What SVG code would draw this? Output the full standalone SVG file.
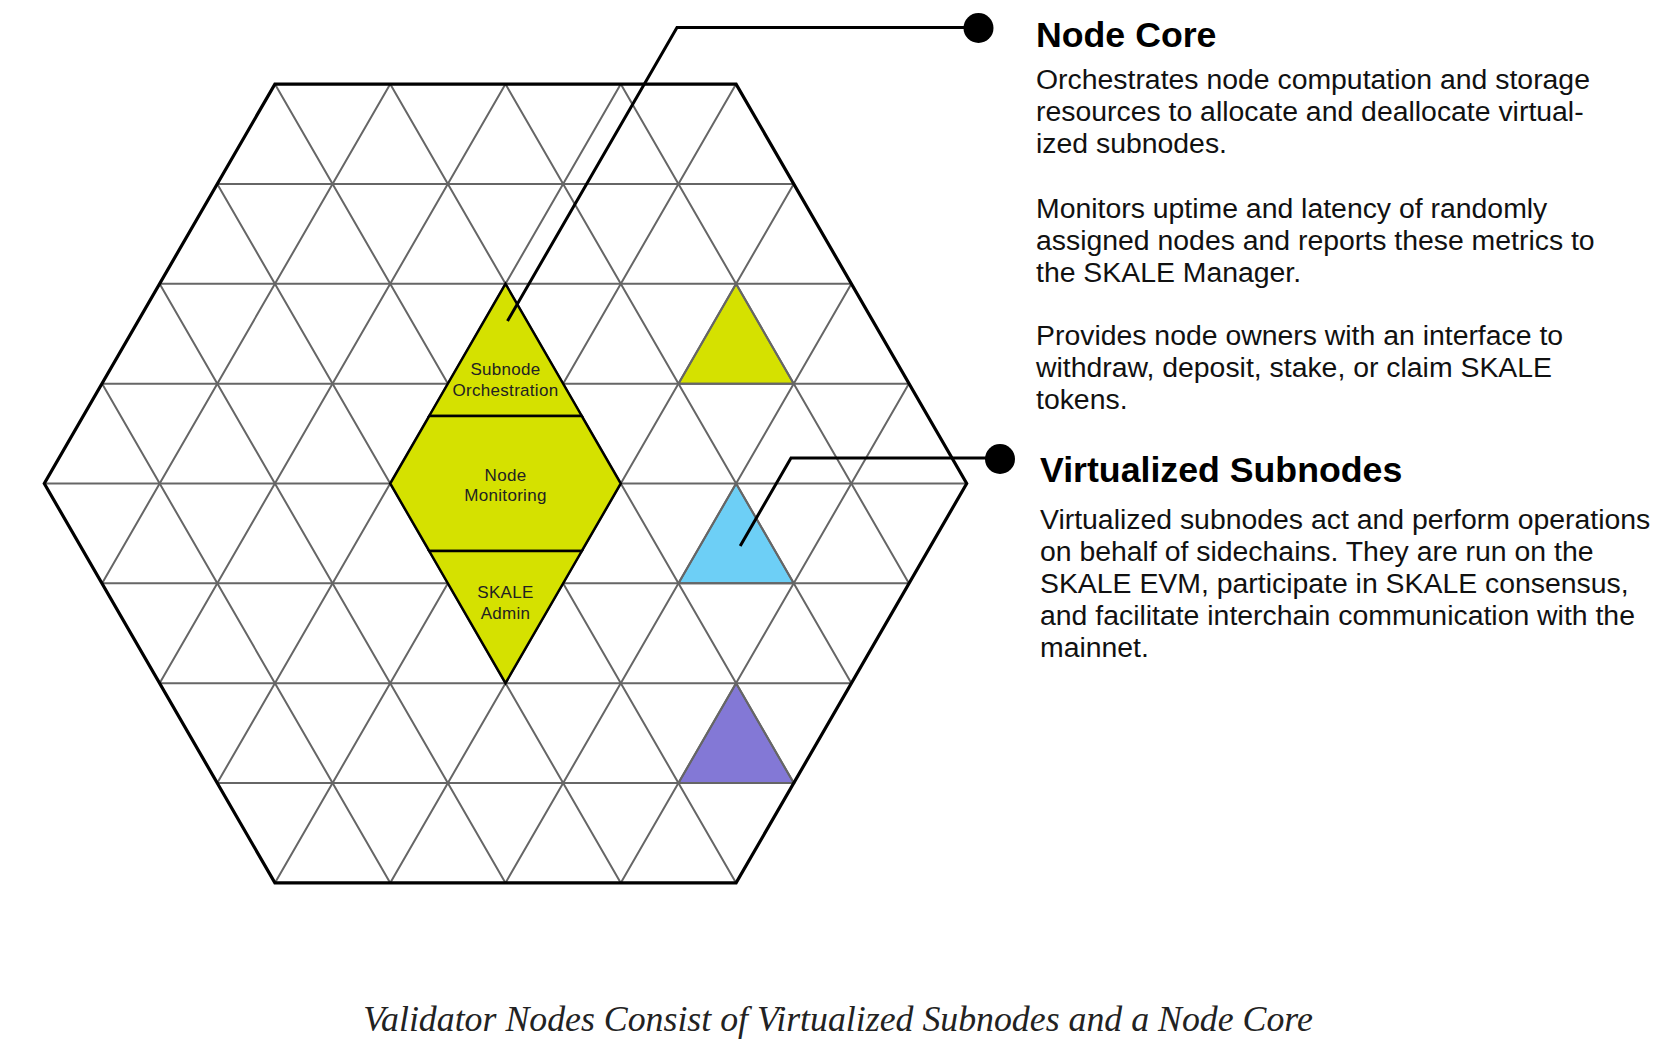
<svg xmlns="http://www.w3.org/2000/svg" xmlns:xlink="http://www.w3.org/1999/xlink" width="1666" height="1052" viewBox="0 0 1666 1052">
<style>
.grid{stroke:#666;stroke-width:2;fill:none}
.hex{stroke:#000;stroke-width:3.2;fill:none;stroke-linejoin:miter}
.dia{stroke:#000;stroke-width:2.5;fill:#d5e100;stroke-linejoin:miter}
.tri{stroke:#666;stroke-width:2}
.lead{stroke:#000;stroke-width:3;fill:none;stroke-linejoin:miter}
.dot{fill:#000}
.lbl{font-family:"Liberation Sans",Arial,sans-serif;font-size:17px;fill:#222;text-anchor:middle;letter-spacing:0.3px}
.title{font-family:"Liberation Sans",Arial,sans-serif;font-size:35.7px;font-weight:bold;fill:#000}
.body{font-family:"Liberation Sans",Arial,sans-serif;font-size:28.4px;fill:#111}
.cap{font-family:"Liberation Serif","Times New Roman",serif;font-style:italic;font-size:35.8px;fill:#222;text-anchor:middle}
</style>
<defs>
<path id="hl" d="M217.25 184.0H793.75M159.6 283.8H851.4M101.95 383.65H909.05M44.3 483.5H966.7M101.95 583.35H909.05M159.6 683.2H851.4M217.25 783.0H793.75"/>
</defs>
<rect width="1666" height="1052" fill="#fff"/>
<g id="colored-subnodes">
<polygon points="736.1,283.8 793.75,383.65 678.45,383.65" fill="#d5e100" class="tri"/>
<polygon points="736.1,483.5 793.75,583.35 678.45,583.35" fill="#6dcff6" class="tri"/>
<polygon points="736.1,683.2 793.75,783.0 678.45,783.0" fill="#8378d6" class="tri"/>
</g>
<g id="grid" class="grid">
<use xlink:href="#hl"/>
<use xlink:href="#hl" transform="rotate(60 505.5 483.5)"/>
<use xlink:href="#hl" transform="rotate(120 505.5 483.5)"/>
</g>
<g id="hexagon">
<polygon class="hex" points="274.9,84.1 736.1,84.1 966.7,483.5 736.1,882.9 274.9,882.9 44.3,483.5"/>
</g>
<g id="node-core-diamond">
<polygon class="dia" points="505.5,283.8 581.8,416 429.2,416"/>
<polygon class="dia" points="429.2,416 581.8,416 620.8,483.5 581.8,551 429.2,551 390.2,483.5"/>
<polygon class="dia" points="429.2,551 581.8,551 505.5,683.2"/>
<text class="lbl" x="505.5" y="375">Subnode</text>
<text class="lbl" x="505.5" y="396">Orchestration</text>
<text class="lbl" x="505.5" y="481">Node</text>
<text class="lbl" x="505.5" y="501">Monitoring</text>
<text class="lbl" x="505.5" y="598">SKALE</text>
<text class="lbl" x="505.5" y="619">Admin</text>
</g>
<g id="connectors">
<path class="lead" d="M978.5 27.5H677L507.5 321"/>
<circle class="dot" cx="978.5" cy="28" r="15"/>
<path class="lead" d="M1000 458H791L740.2 546"/>
<circle class="dot" cx="1000" cy="459" r="15"/>
</g>
<g id="node-core-text">
<text class="title" x="1036" y="47">Node Core</text>
<text class="body" x="1036" y="89">Orchestrates node computation and storage</text>
<text class="body" x="1036" y="121">resources to allocate and deallocate virtual-</text>
<text class="body" x="1036" y="153">ized subnodes.</text>
<text class="body" x="1036" y="218">Monitors uptime and latency of randomly</text>
<text class="body" x="1036" y="250">assigned nodes and reports these metrics to</text>
<text class="body" x="1036" y="282">the SKALE Manager.</text>
<text class="body" x="1036" y="345">Provides node owners with an interface to</text>
<text class="body" x="1036" y="377">withdraw, deposit, stake, or claim SKALE</text>
<text class="body" x="1036" y="409">tokens.</text>
</g>
<g id="virtualized-subnodes-text">
<text class="title" x="1040" y="482">Virtualized Subnodes</text>
<text class="body" x="1040" y="529">Virtualized subnodes act and perform operations</text>
<text class="body" x="1040" y="561">on behalf of sidechains. They are run on the</text>
<text class="body" x="1040" y="593">SKALE EVM, participate in SKALE consensus,</text>
<text class="body" x="1040" y="625">and facilitate interchain communication with the</text>
<text class="body" x="1040" y="657">mainnet.</text>
</g>
<text class="cap" x="838" y="1031">Validator Nodes Consist of Virtualized Subnodes and a Node Core</text>
</svg>
